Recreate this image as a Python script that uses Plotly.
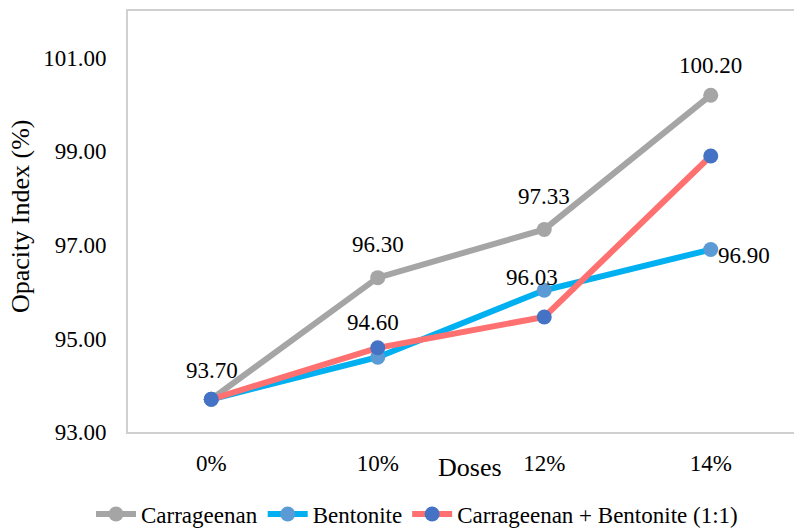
import plotly.graph_objects as go

# Opacity index (%) by dose for three additives
doses = ["0%", "10%", "12%", "14%"]
carrageenan = [93.70, 96.30, 97.33, 100.20]
bentonite = [93.70, 94.60, 96.03, 96.90]
mix = [93.70, 94.80, 95.46, 98.90]

y_ticks = [93, 95, 97, 99, 101]

FONT = "Liberation Serif"

fig = go.Figure()

fig.add_trace(go.Scatter(
    x=doses, y=carrageenan, name="Carrageenan", mode="lines+markers",
    line=dict(color="#A5A5A5", width=6),
    marker=dict(color="#A5A5A5", size=15),
))
fig.add_trace(go.Scatter(
    x=doses, y=bentonite, name="Bentonite", mode="lines+markers",
    line=dict(color="#00B0F0", width=6),
    marker=dict(color="#5B9BD5", size=15),
))
fig.add_trace(go.Scatter(
    x=doses, y=mix, name="Carrageenan + Bentonite (1:1)", mode="lines+markers",
    line=dict(color="#FF7171", width=6),
    marker=dict(color="#4472C4", size=15),
))

# value labels: (series, point index, x shift, y shift)
label_spec = [
    (carrageenan, 0, 1, 29),
    (carrageenan, 1, 0, 33),
    (carrageenan, 2, 0, 33),
    (carrageenan, 3, 0, 30),
    (bentonite, 1, -5, 35),
    (bentonite, 2, -12, 13),
    (bentonite, 3, 33, -6),
]
for series, i, dx, dy in label_spec:
    fig.add_annotation(
        x=doses[i], y=series[i], text=f"{series[i]:.2f}",
        showarrow=False, xshift=dx, yshift=dy,
        xanchor="center", yanchor="middle",
        font=dict(family=FONT, size=23, color="#000000"),
    )

# axis titles
fig.add_annotation(
    xref="paper", yref="paper", x=(470 - 128) / 666, y=-(467 - 432) / 421,
    text="Doses", showarrow=False, xanchor="center", yanchor="middle",
    font=dict(family=FONT, size=26, color="#000000"),
)
fig.add_annotation(
    xref="paper", yref="paper", x=-(128 - 21) / 666, y=(432 - 217) / 421,
    text="Opacity Index (%)", showarrow=False, textangle=-90,
    xanchor="center", yanchor="middle",
    font=dict(family=FONT, size=26, color="#000000"),
)

fig.update_layout(
    width=794, height=528,
    margin=dict(l=128, r=0, t=11, b=96, autoexpand=False),
    paper_bgcolor="white", plot_bgcolor="white",
    font=dict(family=FONT, size=23, color="#000000"),
    showlegend=True,
    legend=dict(
        orientation="h", x=(417 - 128) / 666, xanchor="center",
        y=-(514 - 432) / 421, yanchor="middle",
        font=dict(family=FONT, size=23, color="#000000"),
        itemwidth=40, tracegroupgap=0,
    ),
    xaxis=dict(
        type="category", range=[-0.5, 3.5], showgrid=False, zeroline=False,
        showline=True, linecolor="#D0D0D0", linewidth=2, mirror=True,
        ticks="outside", ticklen=0, ticklabelstandoff=9,
        tickfont=dict(family=FONT, size=23, color="#000000"),
    ),
    yaxis=dict(
        range=[93, 102], tickvals=y_ticks,
        tickformat=".2f", showgrid=False, zeroline=False,
        showline=True, linecolor="#D0D0D0", linewidth=2,
        ticks="outside", ticklen=0, ticklabelstandoff=15,
        tickfont=dict(family=FONT, size=23, color="#000000"),
    ),
)

fig.write_html("out.html")
